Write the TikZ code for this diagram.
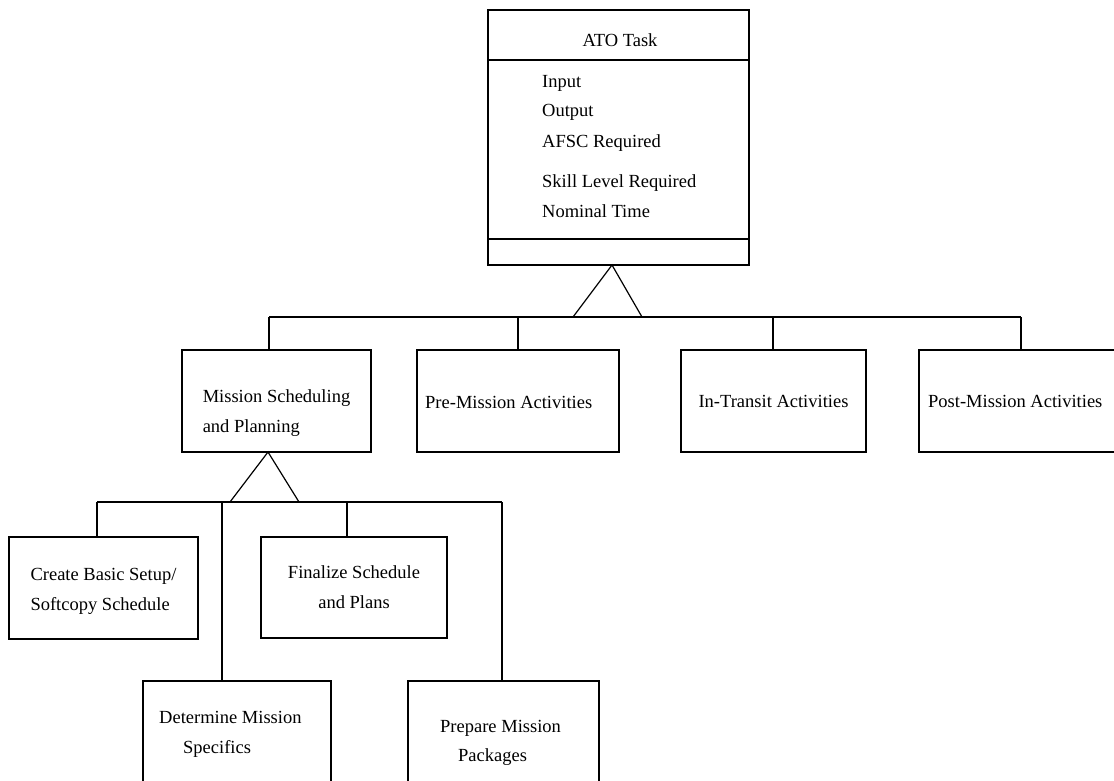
\documentclass[tikz,border=0pt]{standalone}
\usepackage{fontspec}
\setmainfont{Liberation Serif}
\newcommand\taskfont{\fontsize{18.5}{30}\selectfont}
\begin{document}
\begin{tikzpicture}[x=1pt,y=-1pt,
  tbox/.style={draw, line width=1.3pt, inner sep=0pt, outer sep=0pt, align=center, font=\taskfont},
  txt/.style={inner sep=0pt, font=\taskfont},
  link/.style={line width=1.2pt, line join=miter},
  lbl/.style={inner sep=0pt, font=\taskfont, anchor=base west}]
\useasboundingbox (0,0) rectangle (1114,780);
\clip (0,0) rectangle (1114,780);

% root task box with its three compartments
\node[tbox, minimum width=261pt, minimum height=255pt] (ato) at (618.5,137.5) {};
\coordinate (d1) at (0,60);
\coordinate (d2) at (0,239);
\draw[link] (ato.west |- d1) -- (ato.east |- d1);
\draw[link] (ato.west |- d2) -- (ato.east |- d2);
\node[lbl, anchor=base] (title) at (620,46) {ATO Task};
\node[lbl] (attrin)   at (542,87)  {Input};
\node[lbl] (attrout)  at (542,116) {Output};
\node[lbl] (attrafsc) at (542,147) {AFSC Required};
\node[lbl] (attrskill) at (542,187) {Skill Level Required};
\node[lbl] (attrtime) at (542,217) {Nominal Time};

% first level of activities
\node[tbox, minimum width=189pt, minimum height=102pt] (msp) at (276.5,401) {};
\node[txt, align=left] (msptext) at (276.5,413) {Mission Scheduling\\and Planning};
\node[tbox, minimum width=202pt, minimum height=102pt] (pre) at (518,401) {};
\node[lbl] (pretext) at (425,408) {Pre-Mission Activities};
\node[tbox, minimum width=185pt, minimum height=102pt] (transit) at (773.5,401) {In-Transit Activities};
\node[tbox, minimum width=197pt, minimum height=102pt] (post) at (1017.5,401) {};
\node[lbl] (posttext) at (928,407) {Post-Mission Activities};

% aggregation triangle and bus below the root
\coordinate (apex) at (612,265);
\coordinate (tl) at (573,317);
\coordinate (tr) at (642,317);
\draw[link] (tl) -- (apex) -- (tr);
\coordinate (busL) at (269,317);
\coordinate (busP) at (518,317);
\coordinate (busT) at (773,317);
\coordinate (busR) at (1021,317);
\draw[link] (busL) -- (busR);
\draw[link] (busL) -- (busL |- msp.north);
\draw[link] (busP) -- (busP |- pre.north);
\draw[link] (busT) -- (busT |- transit.north);
\draw[link] (busR) -- (busR |- post.north);

% second level under mission scheduling and planning
\node[tbox, minimum width=189pt, minimum height=102pt] (create) at (103.5,588) {};
\node[txt, align=left] (createtext) at (103.5,591) {Create Basic Setup/\\Softcopy Schedule};
\node[tbox, minimum width=186pt, minimum height=101pt] (final) at (354,587.5) {Finalize Schedule\\and Plans};
\node[tbox, minimum width=188pt, minimum height=104pt] (determine) at (237,733) {};
\node[lbl] (dettext1) at (159,723) {Determine Mission};
\node[lbl] (dettext2) at (183,753) {Specifics};
\node[tbox, minimum width=191pt, minimum height=120pt] (prepare) at (503.5,741) {};
\node[lbl] (preptext1) at (440,732) {Prepare Mission};
\node[lbl] (preptext2) at (458,761) {Packages};

\coordinate (sapex) at (268,452);
\coordinate (stl) at (230,502);
\coordinate (str) at (299,502);
\draw[link] (stl) -- (sapex) -- (str);
\coordinate (sbC) at (97,502);
\coordinate (sbD) at (222,502);
\coordinate (sbF) at (347,502);
\coordinate (sbP) at (502,502);
\draw[link] (sbC) -- (sbP);
\draw[link] (sbC) -- (sbC |- create.north);
\draw[link] (sbD) -- (sbD |- determine.north);
\draw[link] (sbF) -- (sbF |- final.north);
\draw[link] (sbP) -- (sbP |- prepare.north);
\end{tikzpicture}
\end{document}
